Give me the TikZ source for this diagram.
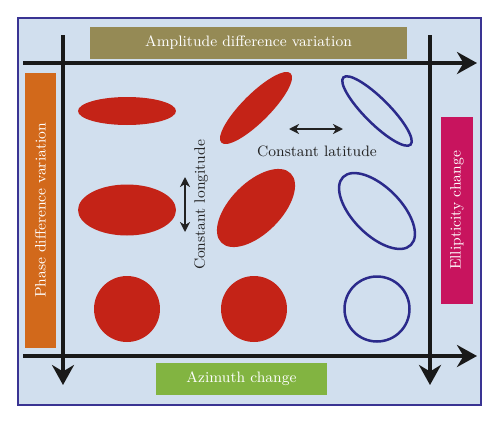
\documentclass[tikz,border=0pt]{standalone}
\usepackage{tikz}
\usetikzlibrary{positioning, calc, shapes.geometric, arrows.meta}

\definecolor{bgblue}{HTML}{D1DFEE}
\definecolor{frameblue}{HTML}{3A3493}
\definecolor{elred}{HTML}{C42317}
\definecolor{ringblue}{HTML}{2B2A8B}
\definecolor{ampolive}{HTML}{958A55}
\definecolor{phaseorange}{HTML}{D2691B}
\definecolor{ellmagenta}{HTML}{C8145E}
\definecolor{azigreen}{HTML}{82B441}
\definecolor{inkgray}{HTML}{222222}

\begin{document}
\begin{tikzpicture}[x=0.02cm, y=-0.02cm, thick,
		axis/.style={line width=0.07cm, draw=black!90,
			-{Stealth[length=0.4cm, width=0.44cm, inset=0.13cm]}},
		move/.style={line width=0.04cm, draw=inkgray,
			{Stealth[length=0.2cm, width=0.2cm, inset=0.06cm]}-{Stealth[length=0.2cm, width=0.2cm, inset=0.06cm]}},
		tag/.style={rectangle, inner sep=0pt, text=white,
			font=\fontsize{8.6}{10}\selectfont},
		note/.style={text=inkgray, inner sep=0pt, font=\fontsize{8.6}{10}\selectfont},
		blob/.style={ellipse, fill=elred, inner sep=0pt},
		ring/.style={ellipse, draw=ringblue, line width=0.05cm, inner sep=0pt},
		thin/.style={minimum width=1.96cm, minimum height=0.56cm},
		wide/.style={minimum width=1.96cm, minimum height=1.02cm},
		round/.style={minimum width=1.32cm, minimum height=1.32cm} ]
	\fill[white] (0,0) rectangle (500,423);
	\useasboundingbox (0,0) rectangle (500,423);
	\draw[fill=bgblue, draw=frameblue, line width=0.03cm] (18,18) rectangle (481,405);

	%Eixos: inicio e fim
	\coordinate (TL) at (23,63);   \coordinate (TR) at (477,63);
	\coordinate (BL) at (23,356);  \coordinate (BR) at (477,356);
	\coordinate (LT) at (63,35);   \coordinate (LB) at (63,385);
	\coordinate (RT) at (430,35);  \coordinate (RB) at (430,385);

	\draw[axis] (TL) -- (TR);
	\draw[axis] (BL) -- (BR);
	\draw[axis] (LT) -- (LB);
	\draw[axis] (RT) -- (RB);

	%Caixas
	\node[tag, fill=ampolive, minimum width=6.34cm, minimum height=0.64cm]
		(amp)   at (248.5,43)  {Amplitude difference variation};
	\node[tag, fill=phaseorange, minimum width=5.5cm, minimum height=0.62cm, rotate=90]
		(phase) at (40.5,210.5) {Phase difference variation};
	\node[tag, fill=ellmagenta, minimum width=3.74cm, minimum height=0.64cm, rotate=90]
		(elli)  at (457,210.5) {Ellipticity change};
	\node[tag, fill=azigreen, minimum width=3.42cm, minimum height=0.64cm]
		(azi)   at (241.5,379) {Azimuth change};

	%Elipses
	\node[blob, thin]             (A1) at (127,111) {};
	\node[blob, thin, rotate=45]  (B1) at (256,108) {};
	\node[ring, thin, rotate=-45, minimum width=1.9cm, minimum height=0.5cm]
		(C1) at (377,111) {};
	\node[blob, wide]             (A2) at (127,210) {};
	\node[blob, wide, rotate=45]  (B2) at (256,208) {};
	\node[ring, wide, rotate=-45, minimum width=1.92cm, minimum height=0.96cm]
		(C2) at (377,211) {};
	\node[blob, round]            (A3) at (127,309) {};
	\node[blob, round]            (B3) at (254,309) {};
	\node[ring, round, minimum width=1.3cm, minimum height=1.3cm]
		(C3) at (377,309) {};

	%Deslocamentos
	\coordinate (latL) at (289,129);  \coordinate (latR) at (343,129);
	\coordinate (lonT) at (185,177);  \coordinate (lonB) at (185,232);
	\draw[move] (latL) -- (latR);
	\draw[move] (lonT) -- (lonB);
	\node[note]            (lat) at (317,151) {Constant latitude};
	\node[note, rotate=90] (lon) at (201,205) {Constant longitude};
\end{tikzpicture}
\end{document}
